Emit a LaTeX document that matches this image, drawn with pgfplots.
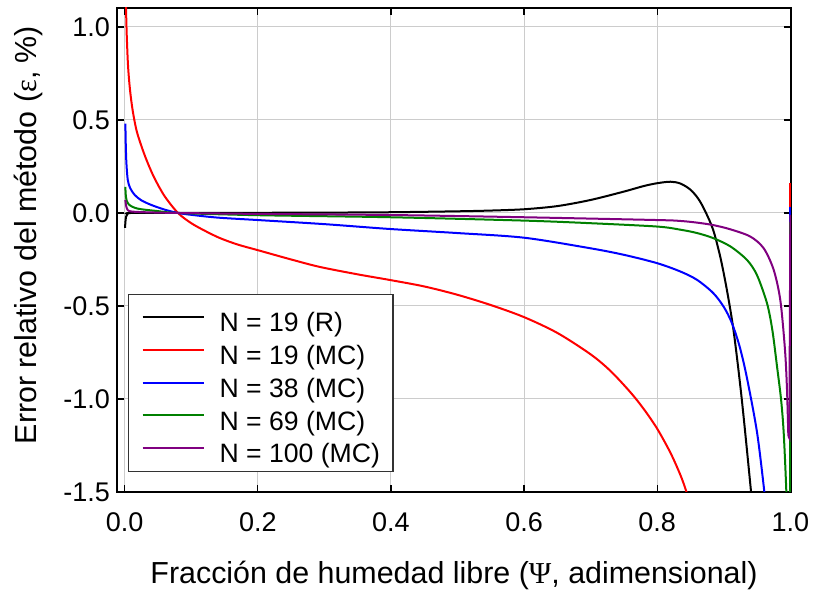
\documentclass[border=0pt]{standalone}
\usepackage{fontspec}
\setmainfont{Liberation Sans}
\newfontfamily\greekfont{Liberation Serif}
\usepackage{pgfplots}
\pgfplotsset{compat=1.18}
\definecolor{cgreen}{RGB}{0,128,0}
\definecolor{cpurple}{RGB}{128,0,128}
\begin{document}
\begin{tikzpicture}
\begin{axis}[
  scale only axis, width=337pt, height=242pt,
  xmin=-0.0116, xmax=1.001, ymin=-1.5, ymax=1.102,
  xtick={0,0.2,0.4,0.6,0.8,1.0},
  ytick={-1.5,-1,-0.5,0,0.5,1},
  /pgf/number format/assume math mode=true,
  /pgf/number format/fixed,
  /pgf/number format/fixed zerofill,
  /pgf/number format/precision=1,
  tick label style={font=\fontsize{13.5}{16}\selectfont},
  xticklabel style={yshift=-7pt},
  tick align=inside, major tick length=3.5pt,
  tick style={black, line width=0.6pt},
  grid=major, grid style={black!20, line width=0.5pt},
  axis line style={line width=0.8pt},
  xlabel={Fracción de humedad libre ({\greekfont Ψ}, adimensional)},
  ylabel={Error relativo del método ({\greekfont ε}, \%)},
  label style={font=\fontsize{15.2}{18}\selectfont},
  xlabel style={at={(axis description cs:0.5,-0.1715)}, anchor=center},
  ylabel style={at={(axis description cs:-0.132,0.531)}, anchor=center},
  legend style={at={(axis description cs:0.0163,0.0413)}, anchor=south west,
    draw=black!80, line width=0.6pt, font=\fontsize{13.3}{16}\selectfont,
    inner xsep=6.5pt, inner ysep=1pt, column sep=7.5pt, row sep=-4.85pt,
    nodes={inner sep=0pt, text height=17.9pt, text depth=3.3pt}},
  legend cell align=left,
  legend image code/.code={\draw[#1, line width=1pt] (0pt,0pt) -- (30.5pt,0pt);},
  every axis plot/.append style={line width=1pt},
]
\coordinate (SW) at (rel axis cs:0,0);
\coordinate (NE) at (rel axis cs:1,1);
% N = 19 (R)
\addplot[black, smooth, tension=0.5] coordinates {
(0.0005,-0.08) (0.001,-0.05) (0.002,-0.02) (0.004,-0.007) (0.01,0.0)
(0.1,0.0) (0.2,0.001) (0.3,0.002) (0.4,0.004) (0.5,0.009) (0.55,0.013)
(0.6,0.02) (0.65,0.037) (0.7,0.07) (0.75,0.115) (0.78,0.145) (0.8,0.16)
(0.82,0.168) (0.835,0.158) (0.85,0.125) (0.862,0.075) (0.872,0.01)
(0.884,-0.09) (0.895,-0.24) (0.905,-0.42) (0.915,-0.64) (0.927,-1.0)
(0.941,-1.5) (0.95,-1.85)
};
\addlegendentry{N = 19 (R)}
% N = 19 (MC)
\addplot[red, smooth, tension=0.5] coordinates {
(0.0015,1.25) (0.002,1.1) (0.003,0.96) (0.005,0.79) (0.008,0.66) (0.012,0.55)
(0.018,0.44) (0.027,0.34) (0.035,0.265) (0.045,0.185) (0.06,0.09) (0.08,0.0)
(0.1,-0.055) (0.12,-0.095) (0.143,-0.135) (0.17,-0.17) (0.2,-0.20) (0.25,-0.25)
(0.293,-0.29) (0.35,-0.33) (0.398,-0.36) (0.45,-0.395) (0.5,-0.44)
(0.55,-0.495) (0.6,-0.56) (0.65,-0.645) (0.7,-0.76) (0.73,-0.85)
(0.76,-0.965) (0.78,-1.055) (0.8,-1.16) (0.82,-1.29) (0.835,-1.41)
(0.844,-1.5) (0.855,-1.63)
};
\addlegendentry{N = 19 (MC)}
% N = 38 (MC)
\addplot[blue, smooth, tension=0.5] coordinates {
(0.001,0.48) (0.0015,0.38) (0.0025,0.27) (0.0045,0.18) (0.008,0.135) (0.015,0.097)
(0.025,0.068) (0.04,0.043) (0.06,0.018) (0.08,0.0) (0.1,-0.01)
(0.14,-0.025) (0.2,-0.038) (0.3,-0.06) (0.398,-0.086) (0.5,-0.108) (0.6,-0.133)
(0.7,-0.19) (0.75,-0.225) (0.8,-0.27) (0.835,-0.315) (0.86,-0.36) (0.884,-0.43)
(0.9,-0.505) (0.912,-0.59) (0.924,-0.72) (0.935,-0.89) (0.95,-1.18) (0.961,-1.5)
(0.97,-1.8)
};
\addlegendentry{N = 38 (MC)}
% N = 69 (MC)
\addplot[cgreen, smooth, tension=0.5] coordinates {
(0.001,0.14) (0.0015,0.1) (0.003,0.065) (0.007,0.043) (0.015,0.028) (0.025,0.02)
(0.05,0.01) (0.08,0.0) (0.2,-0.012) (0.4,-0.023) (0.6,-0.041) (0.7,-0.055) (0.8,-0.073)
(0.835,-0.09) (0.86,-0.108) (0.884,-0.135) (0.91,-0.18) (0.935,-0.253) (0.95,-0.335)
(0.965,-0.486) (0.973,-0.63) (0.98,-0.825) (0.986,-1.0) (0.99,-1.18) (0.994,-1.5) (0.996,-1.8)
};
\addlegendentry{N = 69 (MC)}
% N = 100 (MC)
\addplot[cpurple, smooth, tension=0.5] coordinates {
(0.001,0.07) (0.002,0.04) (0.0045,0.016) (0.01,0.008) (0.03,0.004) (0.08,0.0)
(0.2,-0.005) (0.4,-0.011) (0.6,-0.023) (0.8,-0.038) (0.835,-0.043) (0.86,-0.052)
(0.884,-0.065) (0.91,-0.088) (0.94,-0.127) (0.96,-0.19) (0.975,-0.306) (0.985,-0.47)
(0.992,-0.737) (0.995,-0.95) (0.997,-1.2)
};
\addlegendentry{N = 100 (MC)}
% vertical segments at x = 1
\addplot[red, forget plot] coordinates {(1.0,-1.6) (1.0,0.16)};
\addplot[blue, forget plot] coordinates {(1.0,-1.6) (1.0,0.03)};
\addplot[cgreen, forget plot] coordinates {(1.0,-1.6) (1.0,-0.05)};
\addplot[cpurple, forget plot] coordinates {(0.997,-1.2) (0.9985,-1.21) (1.0,-0.01)};
\end{axis}
\pgfresetboundingbox
\path ([shift={(-58.5pt,-50pt)}]SW) rectangle ([shift={(11.5pt,4pt)}]NE);
\end{tikzpicture}
\end{document}
